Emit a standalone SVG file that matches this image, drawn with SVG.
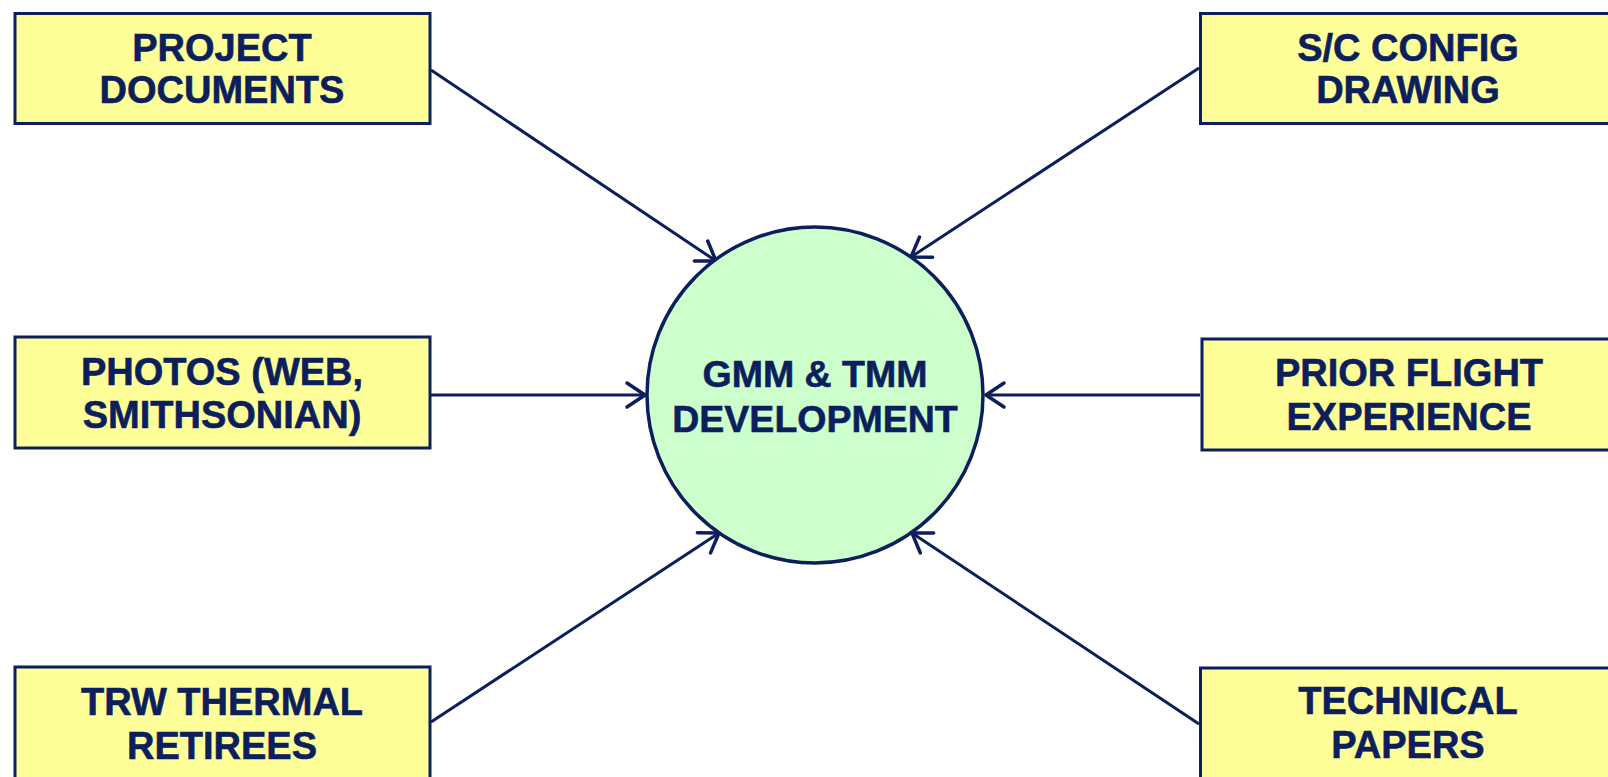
<svg xmlns="http://www.w3.org/2000/svg" width="1608" height="777" viewBox="0 0 1608 777">
<style>
.box{fill:#ffff99;stroke:#0c1f5c;stroke-width:3}
.circ{fill:#ccffcc;stroke:#0c1f5c;stroke-width:3.5}
.t{font-family:"Liberation Sans",Arial,sans-serif;font-weight:bold;font-size:38px;fill:#0c1f5c;stroke:#0c1f5c;stroke-width:0.6;text-anchor:middle}
.c{stroke:#0c1f5c;stroke-width:3;fill:none;marker-end:url(#ah)}
</style>
<defs>
<marker id="ah" markerUnits="userSpaceOnUse" viewBox="-25 -15 30 30" markerWidth="30" markerHeight="30" refX="0" refY="0" orient="auto" overflow="visible">
<path d="M-18,-12 L0,0 L-18,12" fill="none" stroke="#0c1f5c" stroke-width="3.5" stroke-linecap="round" stroke-linejoin="round"/>
</marker>
</defs>
<rect width="1608" height="777" fill="#ffffff"/>
<g id="connectors">
<line class="c" x1="431" y1="70" x2="716" y2="261"/>
<line class="c" x1="1199" y1="68" x2="911" y2="257"/>
<line class="c" x1="431" y1="395" x2="645" y2="395"/>
<line class="c" x1="1200" y1="395" x2="986" y2="395"/>
<line class="c" x1="431" y1="722" x2="719" y2="533"/>
<line class="c" x1="1199" y1="724" x2="912" y2="533"/>
</g>
<g id="center">
<circle class="circ" cx="815" cy="395" r="168"/>
<text class="t" x="815" y="387" style="font-size:37.5px">GMM &amp; TMM</text>
<text class="t" x="815" y="432" style="font-size:37.5px">DEVELOPMENT</text>
</g>
<g id="project-documents">
<rect class="box" x="15" y="13.5" width="415" height="110"/>
<text class="t" x="222" y="61">PROJECT</text>
<text class="t" x="222" y="103">DOCUMENTS</text>
</g>
<g id="sc-config-drawing">
<rect class="box" x="1200.5" y="13.5" width="415" height="110"/>
<text class="t" x="1408" y="61">S/C CONFIG</text>
<text class="t" x="1408" y="103">DRAWING</text>
</g>
<g id="photos">
<rect class="box" x="15" y="337" width="415" height="111"/>
<text class="t" x="222" y="385">PHOTOS (WEB,</text>
<text class="t" x="222" y="428">SMITHSONIAN)</text>
</g>
<g id="prior-flight-experience">
<rect class="box" x="1202" y="339" width="415" height="111"/>
<text class="t" x="1409" y="386">PRIOR FLIGHT</text>
<text class="t" x="1409" y="430">EXPERIENCE</text>
</g>
<g id="trw-thermal-retirees">
<rect class="box" x="15" y="667" width="415" height="112"/>
<text class="t" x="222" y="715">TRW THERMAL</text>
<text class="t" x="222" y="759">RETIREES</text>
</g>
<g id="technical-papers">
<rect class="box" x="1200.5" y="668" width="415" height="112"/>
<text class="t" x="1408" y="714">TECHNICAL</text>
<text class="t" x="1408" y="758">PAPERS</text>
</g>
</svg>
